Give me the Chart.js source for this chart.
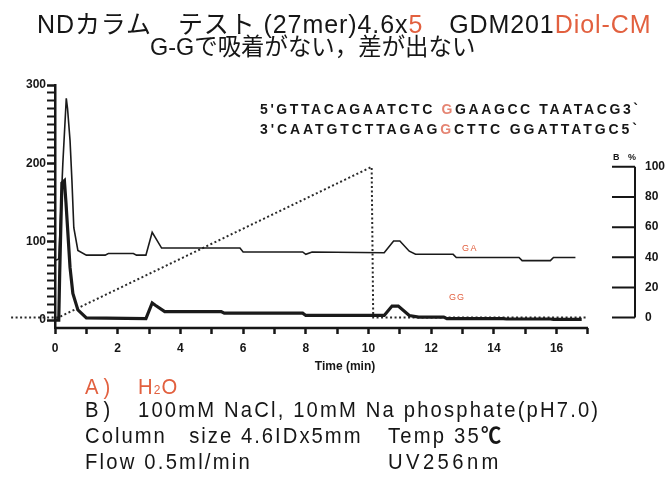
<!DOCTYPE html>
<html>
<head>
<meta charset="utf-8">
<script src="https://cdn.jsdelivr.net/npm/chart.js@4.4.0/dist/chart.umd.min.js"></script>
<style>
    body { margin: 0; background: #fff; width: 665px; height: 483px; overflow: hidden; position: relative;
           font-family: "Liberation Sans", Arial, "Noto Sans CJK JP", sans-serif; color: #161616; }
    #c { position: absolute; left: 0; top: 0; }
    .t { position: absolute; white-space: nowrap; transform-origin: 0 50%; line-height: 1; }
    .red { color: #e2603f; }
    .pink { color: #e58472; }
</style>
</head>
<body>
<canvas id="c" width="665" height="483"></canvas>

<div class="t" style="left:37px;top:12px;font-size:25px" data-w="614">NDカラム　テスト (27mer)4.6x<span class="red">5</span>　GDM201<span class="red">Diol-CM</span></div>
<div class="t" style="left:150px;top:35px;font-size:24px" data-w="325">G-Gで吸着がない，差が出ない</div>

<div class="t" style="left:260px;top:102px;font-size:14px;font-weight:bold" data-w="380">5'GTTACAGAATCTC <span class="pink">G</span>GAAGCC TAATACG3`</div>
<div class="t" style="left:260px;top:122px;font-size:14px;font-weight:bold" data-w="380">3'CAATGTCTTAGAG<span class="pink">G</span>CTTC GGATTATGC5`</div>
<div class="t" style="left:613px;top:153px;font-size:9px;font-weight:bold" data-w="26">B %</div>
<div class="t red" style="left:462px;top:244px;font-size:9px" data-w="16">GA</div>
<div class="t red" style="left:449px;top:293px;font-size:9px" data-w="16">GG</div>

<div class="t red" style="left:85px;top:376px;font-size:22px" data-w="30" data-sx="0.92">A)</div>
<div class="t red" style="left:138px;top:376px;font-size:22px" data-w="40" data-sx="0.92">H<span style="font-size:13px">2</span>O</div>
<div class="t" style="left:85px;top:399px;font-size:22px" data-w="30" data-sx="0.92">B)</div>
<div class="t" style="left:138px;top:399px;font-size:22px" data-w="462" data-sx="0.92">100mM NaCl, 10mM Na phosphate(pH7.0)</div>
<div class="t" style="left:85px;top:425px;font-size:22px" data-w="278" data-sx="0.92">Column　size 4.6IDx5mm</div>
<div class="t" style="left:388px;top:425px;font-size:22px" data-w="115" data-sx="0.92">Temp 35<b>℃</b></div>
<div class="t" style="left:85px;top:451px;font-size:22px" data-w="167" data-sx="0.92">Flow 0.5ml/min</div>
<div class="t" style="left:388px;top:451px;font-size:22px" data-w="114" data-sx="0.92">UV256nm</div>

<script>
// Tempo (min) e sinal das duas amostras
const gaTime = [0, 0.12, 0.25, 0.36, 0.4, 0.48, 0.54, 0.6, 0.73, 1.0, 1.6, 1.7, 2.5, 2.6, 2.9, 3.1, 3.4,
                5.9, 6.0, 7.9, 8.0, 8.2, 10.5, 10.8, 11.0, 11.3, 11.5, 12.7, 12.8, 14.8, 14.9, 15.8, 15.9, 16.6];
const gaSignal = [76, 78, 200, 283, 270, 229, 178, 118, 89, 83, 83, 85, 85, 83, 83, 112, 92,
                  92, 87, 87, 84, 87, 86, 101, 101, 88, 84, 84, 80, 80, 76, 76, 80, 80];

const ggTime = [0, 0.12, 0.15, 0.22, 0.3, 0.35, 0.4, 0.48, 0.57, 0.73, 1.0, 2.9, 3.1, 3.2, 3.5, 5.3, 5.4,
                7.9, 8.0, 10.5, 10.75, 10.95, 11.3, 11.6, 12.4, 12.5, 14.3, 14.4, 15.8, 15.9, 16.8];
const ggSignal = [0, 0, 60, 175, 178, 150, 118, 67, 34, 13, 3, 2, 22, 19, 11, 11, 9,
                  9, 6, 6, 18, 18, 6, 4, 4, 2, 2, 1.5, 1.5, 1, 1];

// Gradiente B (%)
const gradTime = [-1.4, 0.1, 10.1, 10.15, 17];
const gradB = [0, 0, 100, 0, 0];

// Eixos
const signalTicks = [0, 100, 200, 300];
const bTicks = [0, 20, 40, 60, 80, 100];
const timeLabels = [0, 2, 4, 6, 8, 10, 12, 14, 16];
const timeAxisEnd = 17;

const toXY = (xs, ys) => xs.map((v, i) => ({ x: v, y: ys[i] }));
const axisFont = { family: 'Liberation Sans', size: 12, weight: 'bold' };

const axisLines = {
    id: 'axisLines',
    afterDraw(chart) {
        const { ctx, chartArea, scales: { x, y1 } } = chart;
        ctx.save();
        ctx.strokeStyle = '#161616';
        ctx.lineWidth = 2.5;
        ctx.beginPath();
        ctx.moveTo(x.getPixelForValue(0), chartArea.bottom);
        ctx.lineTo(x.getPixelForValue(timeAxisEnd), chartArea.bottom);
        ctx.stroke();

        // eixo B % à direita, marcas para dentro
        const rx = chartArea.right;
        ctx.lineWidth = 2;
        ctx.beginPath();
        ctx.moveTo(rx, y1.getPixelForValue(0));
        ctx.lineTo(rx, y1.getPixelForValue(100));
        bTicks.forEach(v => {
            const py = y1.getPixelForValue(v);
            ctx.moveTo(rx - 23, py);
            ctx.lineTo(rx, py);
        });
        ctx.stroke();
        ctx.restore();
    }
};

new Chart(document.getElementById('c'), {
    type: 'line',
    data: {
        datasets: [
            {
                label: 'GA',
                data: toXY(gaTime, gaSignal),
                borderColor: '#1a1a1a',
                borderWidth: 1.6,
                pointRadius: 0,
                tension: 0,
                yAxisID: 'y'
            },
            {
                label: 'GG',
                data: toXY(ggTime, ggSignal),
                borderColor: '#1a1a1a',
                borderWidth: 3.2,
                pointRadius: 0,
                tension: 0,
                yAxisID: 'y'
            },
            {
                label: 'B %',
                data: toXY(gradTime, gradB),
                borderColor: '#2a2a2a',
                borderWidth: 2,
                borderDash: [2, 2.5],
                pointRadius: 0,
                tension: 0,
                clip: false,
                yAxisID: 'y1'
            }
        ]
    },
    options: {
        responsive: false,
        animation: false,
        events: [],
        layout: { padding: { left: 20, right: 0, top: 85, bottom: 107 } },
        plugins: { legend: { display: false }, tooltip: { enabled: false } },
        scales: {
            x: {
                type: 'linear',
                min: 0,
                max: 18.5,
                afterFit: s => { s.height = 48; },
                afterBuildTicks: s => {
                    const t = [];
                    for (let v = 0; v <= timeAxisEnd; v++) t.push({ value: v });
                    s.ticks = t;
                },
                border: { display: false },
                grid: { drawOnChartArea: false, tickLength: 6, tickWidth: 2.5, tickColor: '#161616' },
                ticks: {
                    autoSkip: false,
                    maxRotation: 0,
                    padding: 7,
                    color: '#161616',
                    font: axisFont,
                    callback: v => timeLabels.includes(v) ? String(v) : ''
                },
                title: {
                    display: true,
                    text: 'Time (min)',
                    color: '#161616',
                    font: { family: 'Liberation Sans', size: 12, weight: 'bold' },
                    padding: { top: 0, bottom: 2 }
                }
            },
            y: {
                position: 'left',
                min: -10,
                max: 300,
                afterFit: s => { s.width = 35; },
                afterBuildTicks: s => {
                    const t = [];
                    for (let v = 0; v <= 300; v += 10) t.push({ value: v });
                    s.ticks = t;
                },
                border: { display: true, width: 2.5, color: '#161616' },
                grid: {
                    drawOnChartArea: false,
                    tickLength: 8,
                    tickColor: '#161616',
                    tickWidth: c => signalTicks.includes(c.tick.value) ? 2.5 : 2
                },
                ticks: {
                    autoSkip: false,
                    padding: 1,
                    color: '#161616',
                    font: axisFont,
                    callback: v => signalTicks.includes(v) ? String(v) : ''
                }
            },
            y1: {
                position: 'right',
                min: -6.9,
                max: 154.3,
                afterFit: s => { s.width = 30; },
                afterBuildTicks: s => { s.ticks = bTicks.map(v => ({ value: v })); },
                border: { display: false },
                grid: { display: false },
                ticks: {
                    padding: 2,
                    color: '#161616',
                    font: axisFont
                }
            }
        }
    },
    plugins: [axisLines]
});

// ajusta a largura de cada texto à do original:
// comprime um pouco os glifos (data-sx) e preenche o resto com espaço entre letras
document.fonts.ready.then(() => {
    document.querySelectorAll('.t').forEach(el => {
        const w = +el.dataset.w;
        let sx = +(el.dataset.sx || 1);
        const w0 = el.offsetWidth;
        const n = el.textContent.length;
        if (w0 * sx > w) {
            sx = w / w0;
        } else {
            el.style.letterSpacing = ((w / sx - w0) / n).toFixed(2) + 'px';
        }
        el.style.transform = 'scaleX(' + sx.toFixed(3) + ')';
    });
});
</script>
</body>
</html>
